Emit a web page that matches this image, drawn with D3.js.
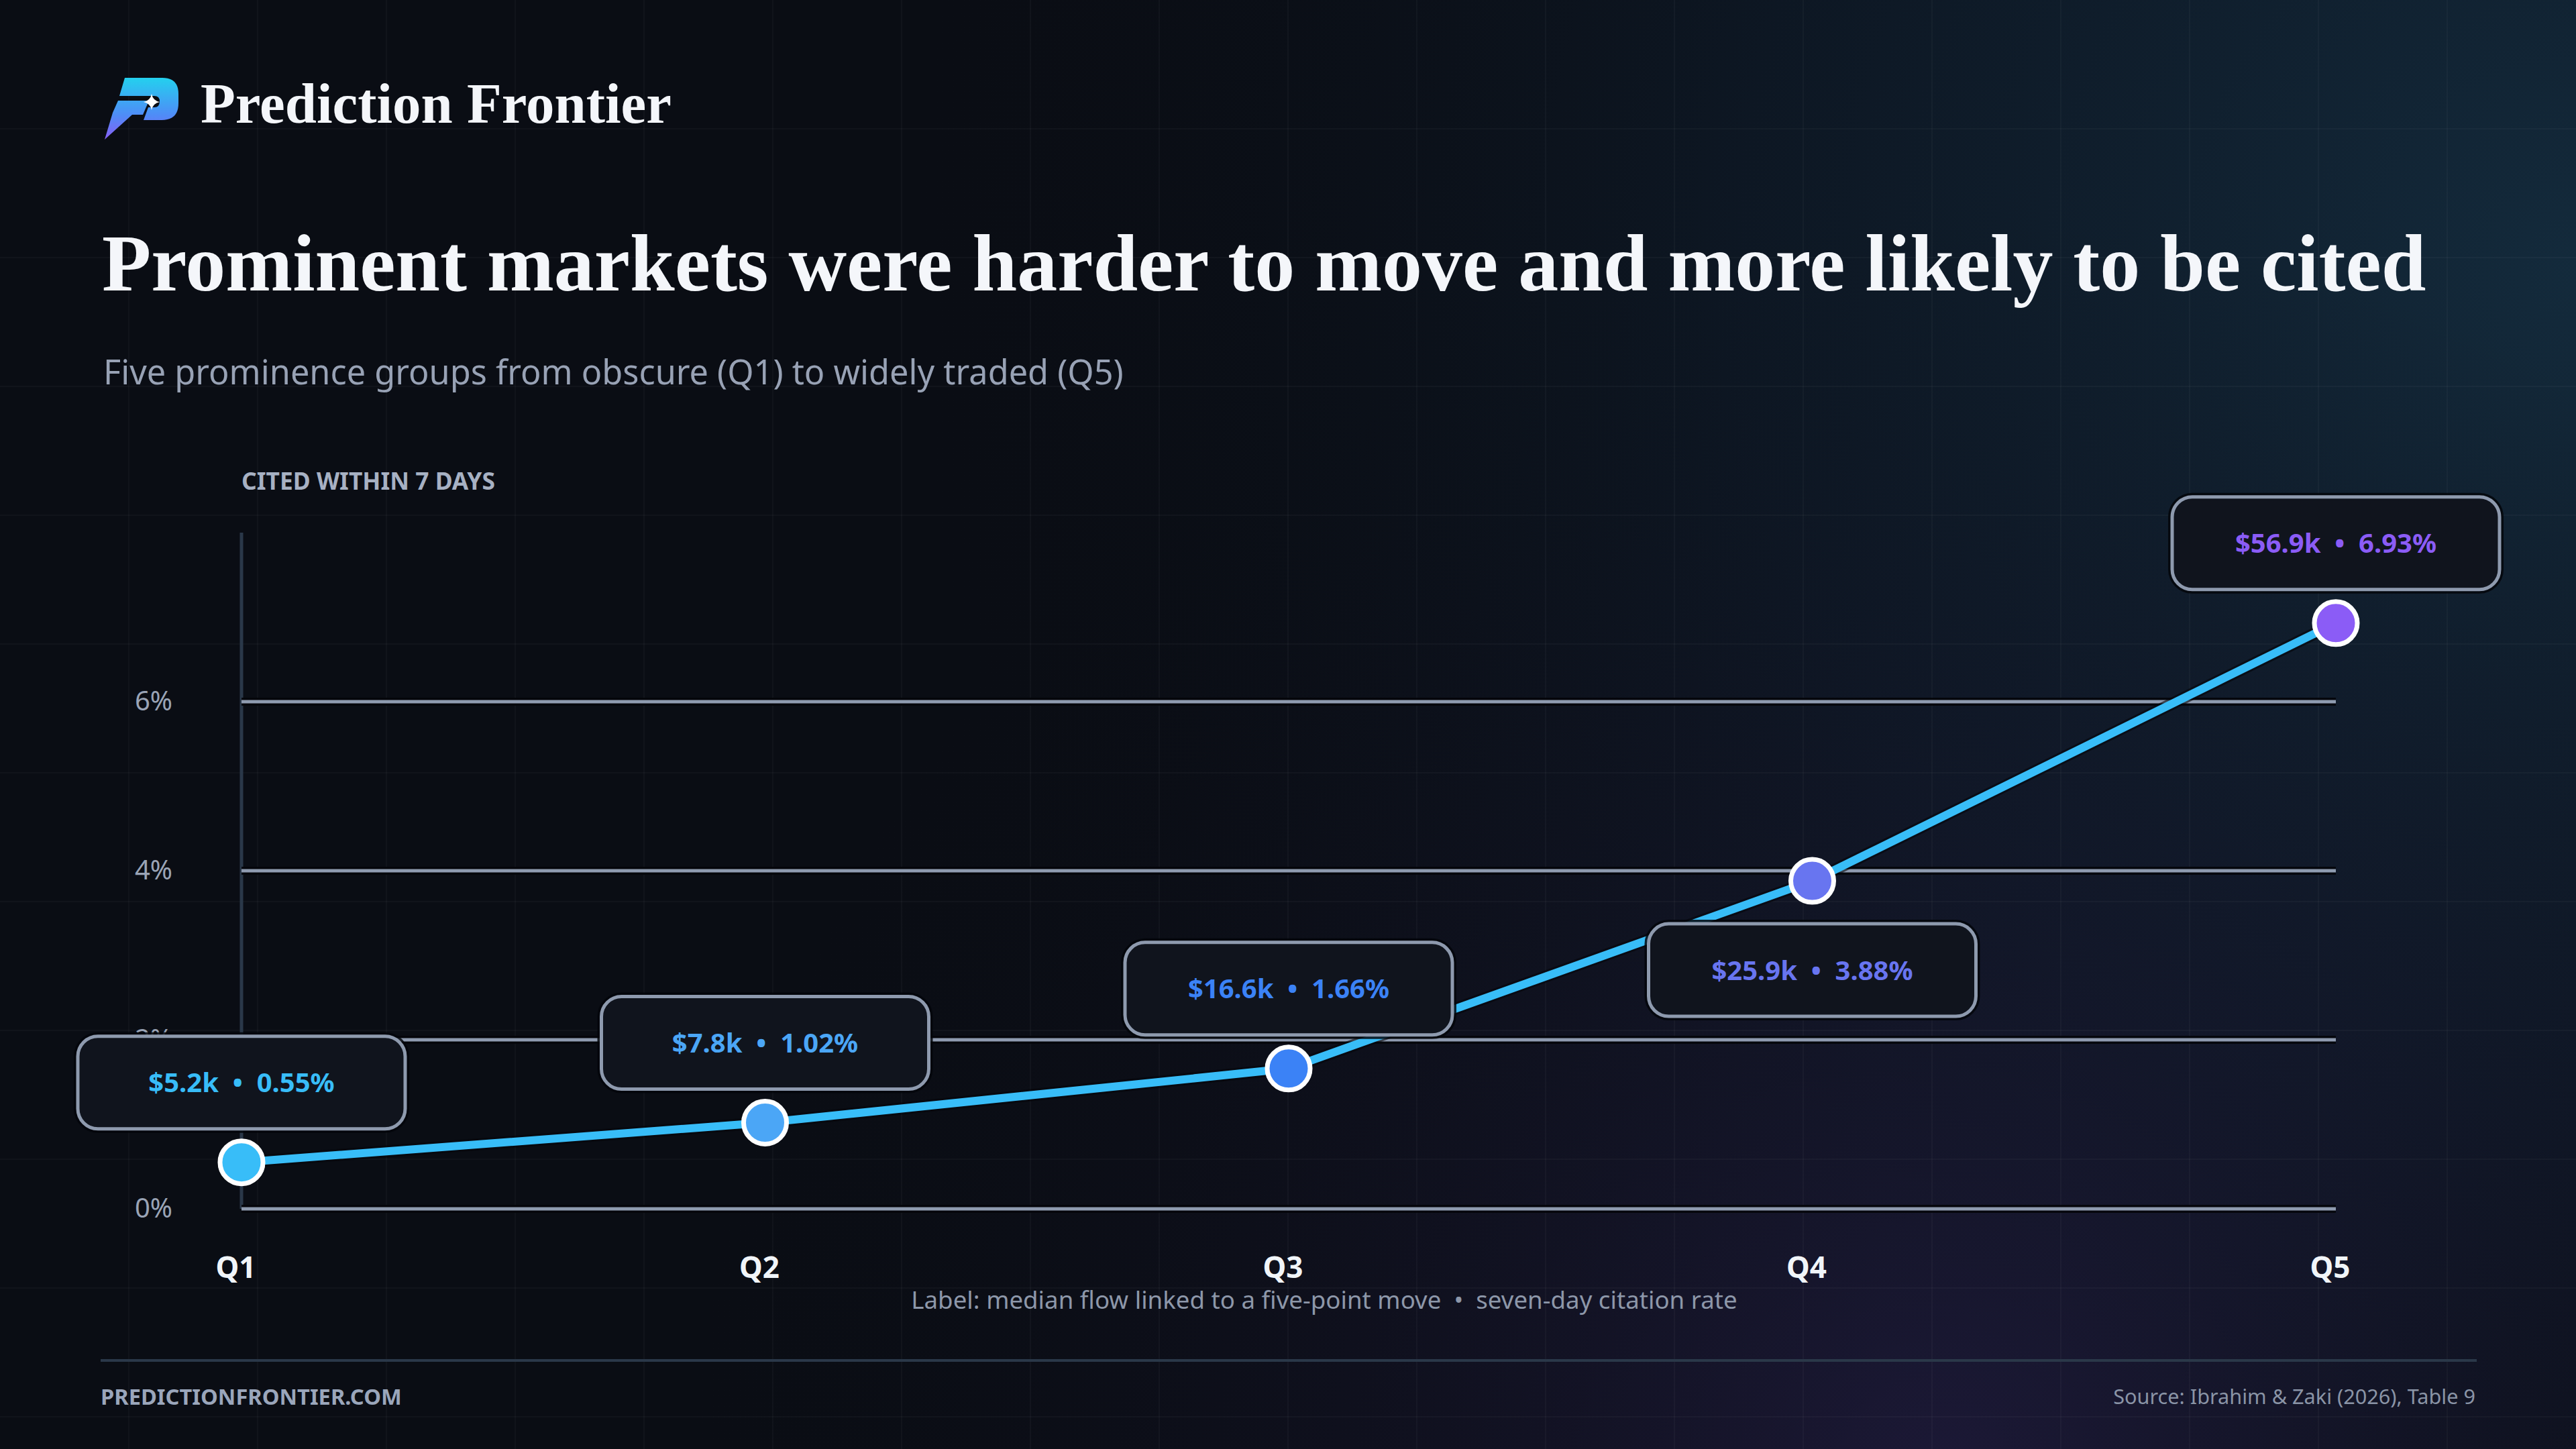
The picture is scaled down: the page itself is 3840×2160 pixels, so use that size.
<!DOCTYPE html>
<html><head><meta charset="utf-8">
<script src="https://cdn.jsdelivr.net/npm/d3@7"></script>
<style>html,body{margin:0;padding:0;background:#0a0d14;} svg{display:block}</style>
</head><body>
<svg id="chart" width="3840" height="2160"></svg>
<script>
// ---- data ----
const quintiles = ["Q1", "Q2", "Q3", "Q4", "Q5"];
const citedPct = [0.55, 1.02, 1.66, 3.88, 6.93];
const flowK = [5.2, 7.8, 16.6, 25.9, 56.9];
const pointColors = ["#38bdf8", "#4ba6f6", "#3b82f6", "#6875f0", "#8b5cf6"];
const labelSide = ["above", "above", "above", "below", "above"];
const yTicks = [0, 2, 4, 6];

const SERIF = '"Liberation Serif","DejaVu Serif",serif';
const SANS = '"Noto Sans","Open Sans",sans-serif';

const W = 3840, H = 2160;
const svg = d3.select("#chart");
const defs = svg.append("defs");

function fitWidth(sel, target) {
  const w = sel.node().getComputedTextLength();
  const fs = parseFloat(sel.attr("font-size"));
  sel.attr("font-size", fs * target / w);
  return sel;
}

// ---- background ----
const gT = defs.append("radialGradient").attr("id", "glowTeal").attr("gradientUnits", "userSpaceOnUse")
  .attr("cx", 3840).attr("cy", 400).attr("r", 2500);
gT.append("stop").attr("offset", 0).attr("stop-color", "#163246").attr("stop-opacity", 0.8);
gT.append("stop").attr("offset", 0.5).attr("stop-color", "#12263a").attr("stop-opacity", 0.4);
gT.append("stop").attr("offset", 1).attr("stop-color", "#0a0d14").attr("stop-opacity", 0);
const gP = defs.append("radialGradient").attr("id", "glowPurple").attr("gradientUnits", "userSpaceOnUse")
  .attr("cx", 2900).attr("cy", 2200).attr("r", 1900);
gP.append("stop").attr("offset", 0).attr("stop-color", "#2a2150").attr("stop-opacity", 0.55);
gP.append("stop").attr("offset", 1).attr("stop-color", "#0a0d14").attr("stop-opacity", 0);

svg.append("rect").attr("width", W).attr("height", H).attr("fill", "#0a0d14");
svg.append("rect").attr("width", W).attr("height", H).attr("fill", "url(#glowTeal)");
svg.append("rect").attr("width", W).attr("height", H).attr("fill", "url(#glowPurple)");

const bgGrid = svg.append("g").attr("stroke", "#ffffff").attr("stroke-opacity", 0.03).attr("stroke-width", 2);
d3.range(192, W, 192).forEach(v => bgGrid.append("line").attr("x1", v).attr("x2", v).attr("y1", 0).attr("y2", H));
d3.range(192, H, 192).forEach(v => bgGrid.append("line").attr("y1", v).attr("y2", v).attr("x1", 0).attr("x2", W));

// ---- logo ----
const lg = defs.append("linearGradient").attr("id", "logoGrad").attr("gradientUnits", "userSpaceOnUse")
  .attr("x1", 0).attr("y1", 114).attr("x2", 0).attr("y2", 210);
lg.append("stop").attr("offset", 0).attr("stop-color", "#22d3ee");
lg.append("stop").attr("offset", 0.6).attr("stop-color", "#4f8cf7");
lg.append("stop").attr("offset", 1).attr("stop-color", "#8b5cf6");
const logo = svg.append("g");
logo.append("path").attr("fill", "url(#logoGrad)")
  .attr("d", "M186 116 L242 116 Q266 116 266 140 L266 154 Q266 179 241 179 L214 179 L221 160 L230 160 Q238 160 238 151 Q238 143 230 143 L178 143 Z");
logo.append("path").attr("fill", "url(#logoGrad)")
  .attr("d", "M176 150 L222 150 L213 171 L197 171 L156 208 L168 168 Z");
logo.append("path").attr("fill", "#ffffff")
  .attr("d", "M226 140 Q228 150 238 152 Q228 154 226 164 Q224 154 214 152 Q224 150 226 140 Z");

const brand = svg.append("text").attr("x", 299).attr("y", 183)
  .attr("font-family", SERIF).attr("font-weight", 700).attr("font-size", 80).attr("fill", "#f4f6fa")
  .text("Prediction Frontier");
fitWidth(brand, 702);

// ---- title / subtitle ----
const title = svg.append("text").attr("x", 152).attr("y", 433)
  .attr("font-family", SERIF).attr("font-weight", 700).attr("font-size", 118).attr("fill", "#f4f6fa")
  .text("Prominent markets were harder to move and more likely to be cited");
fitWidth(title, 3465);

const subtitle = svg.append("text").attr("x", 154).attr("y", 573)
  .attr("font-family", SANS).attr("font-size", 50).attr("fill", "#98a2b5")
  .text("Five prominence groups from obscure (Q1) to widely traded (Q5)");
fitWidth(subtitle, 1521);

// ---- scales ----
const x = d3.scalePoint().domain(quintiles).range([360, 3482]);
const y = d3.scaleLinear().domain([0, 8]).range([1802, 794]);

const axisTitle = svg.append("text").attr("x", 360).attr("y", 730)
  .attr("font-family", SANS).attr("font-weight", 700).attr("font-size", 32).attr("fill", "#a7b1c3")
  .text("CITED WITHIN 7 DAYS");
fitWidth(axisTitle, 378);

// vertical axis line
svg.append("line").attr("x1", 360).attr("x2", 360).attr("y1", y(8)).attr("y2", y(0))
  .attr("stroke", "#2a3849").attr("stroke-width", 5);

// gridlines
const grid = svg.append("g");
yTicks.forEach(t => {
  grid.append("line").attr("x1", x.range()[0]).attr("x2", x.range()[1]).attr("y1", y(t)).attr("y2", y(t))
    .attr("stroke", "#04060a").attr("stroke-width", 12).attr("stroke-opacity", 0.9);
  grid.append("line").attr("x1", x.range()[0]).attr("x2", x.range()[1]).attr("y1", y(t)).attr("y2", y(t))
    .attr("stroke", "#8f9bb0").attr("stroke-width", 5);
});

// y axis labels
const yAxis = svg.append("g").attr("transform", "translate(360,0)")
  .call(d3.axisLeft(y).tickValues(yTicks).tickSize(0).tickPadding(103).tickFormat(d => d + "%"));
yAxis.select(".domain").remove();
yAxis.selectAll("text").attr("font-family", SANS).attr("font-size", 40).attr("fill", "#9aa4b6");

// x axis labels
const xAxis = svg.append("g").attr("transform", `translate(0,${y(0)})`)
  .call(d3.axisBottom(x).tickSize(0).tickPadding(72));
xAxis.select(".domain").remove();
xAxis.selectAll("text").attr("font-family", SANS).attr("font-weight", 700).attr("font-size", 44)
  .attr("fill", "#f1f5f9").attr("dx", -9);

// ---- line ----
const line = d3.line().x((d, i) => x(quintiles[i])).y(d => y(d));
svg.append("path").datum(citedPct).attr("d", line).attr("fill", "none")
  .attr("stroke", "#05070c").attr("stroke-opacity", 0.6).attr("stroke-width", 18).attr("stroke-linejoin", "round");
svg.append("path").datum(citedPct).attr("d", line).attr("fill", "none")
  .attr("stroke", "#38bdf8").attr("stroke-width", 12).attr("stroke-linejoin", "round").attr("stroke-linecap", "round");

// ---- label boxes ----
const boxW = 488, boxH = 138;
const boxes = svg.append("g");
const SP = "\u00a0\u00a0";
citedPct.forEach((v, i) => {
  const cx = x(quintiles[i]);
  const cy = y(v) + (labelSide[i] === "above" ? -119 : 133);
  boxes.append("rect").attr("x", cx - boxW / 2).attr("y", cy - boxH / 2).attr("width", boxW).attr("height", boxH)
    .attr("rx", 30).attr("fill", "none").attr("stroke", "#04060a").attr("stroke-width", 12).attr("stroke-opacity", 0.85);
  boxes.append("rect").attr("x", cx - boxW / 2).attr("y", cy - boxH / 2).attr("width", boxW).attr("height", boxH)
    .attr("rx", 30).attr("fill", "#10141d").attr("stroke", "#8e9aae").attr("stroke-width", 5);
  boxes.append("text").attr("x", cx).attr("y", cy).attr("dy", "0.36em").attr("text-anchor", "middle")
    .attr("font-family", SANS).attr("font-weight", 700).attr("font-size", 40).attr("fill", pointColors[i])
    .text(`$${flowK[i].toFixed(1)}k${SP}\u2022${SP}${v.toFixed(2)}%`);
});

// ---- points ----
svg.append("g").selectAll("circle").data(citedPct).join("circle")
  .attr("cx", (d, i) => x(quintiles[i])).attr("cy", d => y(d)).attr("r", 32)
  .attr("fill", (d, i) => pointColors[i]).attr("stroke", "#ffffff").attr("stroke-width", 7);

// ---- note ----
const note = svg.append("text").attr("x", 1974).attr("y", 1951).attr("text-anchor", "middle")
  .attr("font-family", SANS).attr("font-size", 36).attr("fill", "#8d97a9")
  .text("Label: median flow linked to a five-point move" + SP + "\u2022" + SP + "seven-day citation rate");
fitWidth(note, 1232);

// ---- footer ----
svg.append("line").attr("x1", 150).attr("x2", 3692).attr("y1", 2028).attr("y2", 2028)
  .attr("stroke", "#2a3849").attr("stroke-width", 4);
const fl = svg.append("text").attr("x", 150).attr("y", 2094)
  .attr("font-family", SANS).attr("font-weight", 700).attr("font-size", 34).attr("fill", "#9aa6bb")
  .text("PREDICTIONFRONTIER.COM");
fitWidth(fl, 449);
const src = svg.append("text").attr("x", 3690).attr("y", 2093).attr("text-anchor", "end")
  .attr("font-family", SANS).attr("font-size", 32).attr("fill", "#8a94a6")
  .text("Source: Ibrahim & Zaki (2026), Table 9");
fitWidth(src, 540);
</script>
</body></html>
